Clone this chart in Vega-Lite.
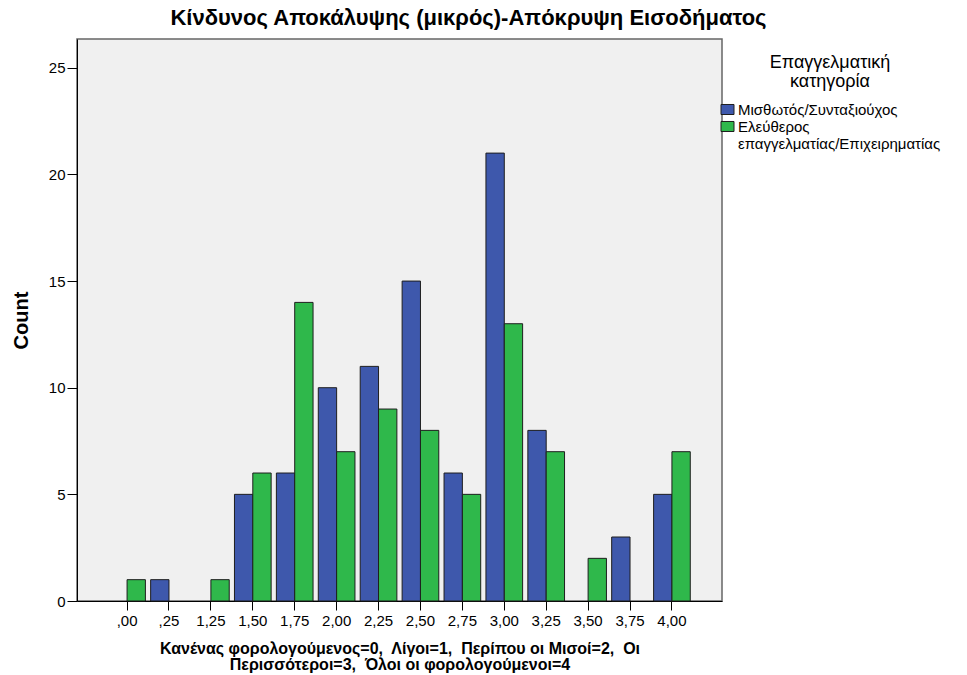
{
  "$schema": "https://vega.github.io/schema/vega-lite/v6.json",
  "autosize": {"type": "none"},
  "padding": {"left": 77, "top": 39, "right": 245, "bottom": 74},
  "width": 645,
  "height": 562,
  "background": "white",
  "title": {
    "text": "Κίνδυνος Αποκάλυψης (μικρός)-Απόκρυψη Εισοδήματος",
    "anchor": "middle",
    "frame": "group",
    "dx": 69,
    "fontSize": 22,
    "fontWeight": "bold",
    "font": "Liberation Sans",
    "baseline": "alphabetic",
    "offset": -8,
    "color": "black"
  },
  "data": {
    "values": [
      {"score": ",00", "group": "Ελεύθερος επαγγελματίας/Επιχειρηματίας", "count": 1},
      {"score": ",25", "group": "Μισθωτός/Συνταξιούχος", "count": 1},
      {"score": "1,25", "group": "Ελεύθερος επαγγελματίας/Επιχειρηματίας", "count": 1},
      {"score": "1,50", "group": "Μισθωτός/Συνταξιούχος", "count": 5},
      {"score": "1,50", "group": "Ελεύθερος επαγγελματίας/Επιχειρηματίας", "count": 6},
      {"score": "1,75", "group": "Μισθωτός/Συνταξιούχος", "count": 6},
      {"score": "1,75", "group": "Ελεύθερος επαγγελματίας/Επιχειρηματίας", "count": 14},
      {"score": "2,00", "group": "Μισθωτός/Συνταξιούχος", "count": 10},
      {"score": "2,00", "group": "Ελεύθερος επαγγελματίας/Επιχειρηματίας", "count": 7},
      {"score": "2,25", "group": "Μισθωτός/Συνταξιούχος", "count": 11},
      {"score": "2,25", "group": "Ελεύθερος επαγγελματίας/Επιχειρηματίας", "count": 9},
      {"score": "2,50", "group": "Μισθωτός/Συνταξιούχος", "count": 15},
      {"score": "2,50", "group": "Ελεύθερος επαγγελματίας/Επιχειρηματίας", "count": 8},
      {"score": "2,75", "group": "Μισθωτός/Συνταξιούχος", "count": 6},
      {"score": "2,75", "group": "Ελεύθερος επαγγελματίας/Επιχειρηματίας", "count": 5},
      {"score": "3,00", "group": "Μισθωτός/Συνταξιούχος", "count": 21},
      {"score": "3,00", "group": "Ελεύθερος επαγγελματίας/Επιχειρηματίας", "count": 13},
      {"score": "3,25", "group": "Μισθωτός/Συνταξιούχος", "count": 8},
      {"score": "3,25", "group": "Ελεύθερος επαγγελματίας/Επιχειρηματίας", "count": 7},
      {"score": "3,50", "group": "Ελεύθερος επαγγελματίας/Επιχειρηματίας", "count": 2},
      {"score": "3,75", "group": "Μισθωτός/Συνταξιούχος", "count": 3},
      {"score": "4,00", "group": "Μισθωτός/Συνταξιούχος", "count": 5},
      {"score": "4,00", "group": "Ελεύθερος επαγγελματίας/Επιχειρηματίας", "count": 7}
    ]
  },
  "mark": {"type": "bar", "stroke": "#1e1e1e", "strokeWidth": 1},
  "encoding": {
    "x": {
      "field": "score",
      "type": "nominal",
      "sort": [",00", ",25", "1,25", "1,50", "1,75", "2,00", "2,25", "2,50", "2,75", "3,00", "3,25", "3,50", "3,75", "4,00"],
      "scale": {"paddingInner": 0.125, "paddingOuter": 0.757},
      "axis": {
        "title": ["Κανένας φορολογούμενος=0,\u00a0 Λίγοι=1,\u00a0 Περίπου οι Μισοί=2,\u00a0 Οι", "Περισσότεροι=3,\u00a0 Όλοι οι φορολογούμενοι=4"],
        "titleFontSize": 16,
        "titleFontWeight": "bold",
        "titleLineHeight": 16,
        "titlePadding": 12,
        "titleColor": "black",
        "labelAngle": 0,
        "labelFontSize": 15,
        "labelPadding": 3,
        "labelColor": "black",
        "tickSize": 9,
        "tickColor": "black",
        "domainColor": "black",
        "grid": false
      }
    },
    "xOffset": {
      "field": "group",
      "type": "nominal",
      "sort": ["Μισθωτός/Συνταξιούχος", "Ελεύθερος επαγγελματίας/Επιχειρηματίας"],
      "scale": {"paddingInner": 0, "paddingOuter": 0}
    },
    "y": {
      "field": "count",
      "type": "quantitative",
      "scale": {"domain": [0, 26.35], "nice": false},
      "axis": {
        "values": [0, 5, 10, 15, 20, 25],
        "title": "Count",
        "titleFontSize": 20,
        "titleFontWeight": "bold",
        "titlePadding": 17,
        "titleColor": "black",
        "labelFontSize": 15,
        "labelColor": "black",
        "labelPadding": 2,
        "tickSize": 10,
        "tickColor": "black",
        "domainColor": "black",
        "grid": false
      }
    },
    "color": {
      "field": "group",
      "type": "nominal",
      "scale": {
        "domain": ["Μισθωτός/Συνταξιούχος", "Ελεύθερος επαγγελματίας/Επιχειρηματίας"],
        "range": ["#3e58ac", "#2fb84b"]
      },
      "legend": {
        "orient": "none",
        "legendX": 643,
        "legendY": 15,
        "title": ["Επαγγελματική", "κατηγορία"],
        "titleAnchor": "middle",
        "titleAlign": "center",
        "titleFontSize": 18,
        "titleFontWeight": "normal",
        "titleLineHeight": 19,
        "titleColor": "black",
        "titlePadding": 11,
        "labelFontSize": 15,
        "labelColor": "black",
        "labelLimit": 400,
        "labelOffset": 3,
        "labelExpr": "split(datum.label, ' ')",
        "symbolType": "M-1,-0.77H1V0.77H-1Z",
        "symbolSize": 169,
        "symbolStrokeColor": "#1e1e1e",
        "symbolStrokeWidth": 1,
        "symbolOpacity": 1,
        "rowPadding": 1,
        "padding": 0,
        "encode": {"labels": {"update": {"lineHeight": {"value": 17}}}}
      }
    }
  },
  "config": {
    "view": {"fill": "#f0f0f0", "stroke": "#666666", "strokeWidth": 1.5},
    "font": "Liberation Sans"
  }
}
